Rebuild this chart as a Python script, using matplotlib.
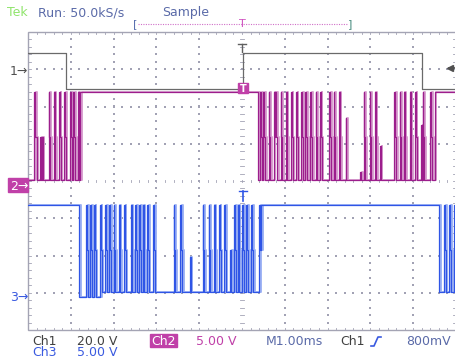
import numpy as np
import matplotlib
matplotlib.use('Agg')
import matplotlib.pyplot as plt
from matplotlib.patches import Rectangle

W, H = 456, 361

# ---- scope settings ----
ms_per_div = 1.0
ch1_v_per_div, ch2_v_per_div, ch3_v_per_div = 20.0, 5.0, 5.0
ch1_pos, ch2_pos, ch3_pos = 6.95, 3.89, 0.89      # ground markers (div)
sample_ms = 0.02                                  # 50.0 kS/s

# ---- ch1 : square wave (time ms from trigger, volts) ----
ch1_edge_ms = [-5.0, -4.14, 0.0, 4.18]
ch1_level_v = [9.8, -9.6, 9.8, -9.6]

# ---- ch2 : idle high, two bursts ----
ch2_high, ch2_mid, ch2_low = 12.5, 6.4, 0.75
ch2_burst_ms = [(-5.0, -3.80), (0.36, 4.49)]
ch2_pulse_ms = [-4.88, -4.84, -4.74, -4.69, -4.54, -4.42, -4.30, -4.18, -4.04, -3.96, -3.86,
                0.40, 0.48, 0.60, 0.72, 0.77, 0.89, 1.00, 1.12, 1.24, 1.36, 1.47, 1.59, 1.71,
                1.81, 2.02, 2.13, 2.25, 2.41, 2.74, 2.83, 2.97, 3.09, 3.21, 3.54, 3.67, 3.77,
                3.91, 4.03, 4.16, 4.20, 4.38]
ch2_pulse_v = [12.5, 6.4, 6.4, 6.4, 12.5, 12.5, 12.5, 12.5, 12.5, 12.5, 12.5,
               12.5, 12.5, 12.5, 12.5, 12.5, 12.5, 12.5, 12.5, 12.5, 12.5, 12.5, 12.5, 12.5,
               12.5, 12.5, 12.5, 12.5, 9.0, 1.8, 12.5, 12.5, 12.5, 5.2, 12.5, 12.5, 12.5,
               12.5, 12.5, 8.0, 12.5, 12.5]

# ---- ch3 : idle high, bursts ----
ch3_high, ch3_mid, ch3_low = 12.3, 6.3, 0.6
ch3_burst_ms = [(-3.81, 0.42), (4.59, 5.0)]
ch3_deep_ms = (-3.81, -3.30)                      # burst start sinks to 0 V
ch3_pulse_ms = [-3.65, -3.55, -3.47, -3.33, -3.22, -3.11, -3.01, -2.89, -2.77, -2.62, -2.52,
                -2.42, -2.34, -2.23, -2.09, -1.61, -1.45, -1.23, -0.94, -0.79, -0.67, -0.55,
                -0.44, -0.30, -0.20, -0.11, -0.01, 0.09, 0.20, 0.38, 4.70, 4.82, 4.94]
ch3_pulse_v = [12.3, 12.3, 12.3, 12.3, 12.3, 12.3, 12.3, 12.3, 12.3, 12.3, 12.3,
               12.3, 12.3, 12.3, 12.3, 12.3, 12.3, 5.3, 12.3, 12.3, 12.3, 12.3,
               12.3, 6.3, 12.3, 12.3, 12.3, 12.3, 12.3, 12.3, 12.3, 12.3, 12.3]


def sample_trace(t, high, mid, low, bursts, starts, tops, deep=None):
    v = np.full_like(t, high)
    for b0, b1 in bursts:
        v[(t >= b0) & (t < b1)] = low
    if deep is not None:
        v[(t >= deep[0]) & (t < deep[1])] = 0.0
    for s, top in zip(starts, tops):
        if top >= high:
            v[(t >= s) & (t < s + sample_ms)] = top
            v[(t >= s + sample_ms) & (t < s + 2 * sample_ms)] = mid
        else:
            v[(t >= s) & (t < s + sample_ms)] = top
    return v


t = np.arange(-5.0, 5.0 + sample_ms, sample_ms)
ch1 = np.array(ch1_level_v)[np.searchsorted(ch1_edge_ms, t, side='right') - 1]
ch2 = sample_trace(t, ch2_high, ch2_mid, ch2_low, ch2_burst_ms, ch2_pulse_ms, ch2_pulse_v)
ch3 = sample_trace(t, ch3_high, ch3_mid, ch3_low, ch3_burst_ms, ch3_pulse_ms, ch3_pulse_v,
                   deep=ch3_deep_ms)

fig = plt.figure(figsize=(W / 100, H / 100), dpi=100)
fig.patch.set_facecolor('white')

# ---- graticule axes (time ms, divisions) ----
ax = fig.add_axes([28 / W, (H - 330) / H, 428 / W, 298 / H])
ax.set_xlim(-5, 5)
ax.set_ylim(0, 8)
ax.axis('off')

gcol = '#a2a2b4'
for k in range(-4, 5):
    if k == 0:
        continue
    yy = np.arange(0.2, 8.0, 0.2)
    ax.scatter(np.full_like(yy, k), yy, s=1.0, color=gcol, lw=0, marker='s')
for j in range(1, 8):
    if j == 4:
        continue
    xx = np.arange(-4.8, 5.0, 0.2)
    ax.scatter(xx, np.full_like(xx, j), s=1.0, color=gcol, lw=0, marker='s')
# centre lines with ticks
for yy in np.arange(0.2, 8.0, 0.2):
    ax.plot([-0.05, 0.05], [yy, yy], color=gcol, lw=0.6)
for xx in np.arange(-4.8, 5.0, 0.2):
    ax.plot([xx, xx], [3.96, 4.04], color=gcol, lw=0.6)
# border ticks
for xx in np.arange(-4.8, 5.0, 0.2):
    ax.plot([xx, xx], [7.94, 8.0], color=gcol, lw=0.6)
    ax.plot([xx, xx], [0.0, 0.06], color=gcol, lw=0.6)
for yy in np.arange(0.2, 8.0, 0.2):
    ax.plot([-5, -4.93], [yy, yy], color=gcol, lw=0.6)
    ax.plot([4.93, 5], [yy, yy], color=gcol, lw=0.6)
ax.add_patch(Rectangle((-5, 0), 10, 8, fill=False, ec='#a4a4b4', lw=1.0, clip_on=False))

# ---- traces ----
def to_div(v, pos, vpd):
    return pos + v / vpd

shift = 2 * sample_ms
ax.step(t + shift, to_div(ch2, ch2_pos, ch2_v_per_div), where='post', color='#d8a0d0', lw=1.4)
ax.step(t, to_div(ch2, ch2_pos, ch2_v_per_div), where='post', color='#9c1e8c', lw=0.9)
ax.step(t + shift, to_div(ch3, ch3_pos, ch3_v_per_div), where='post', color='#a0b4f4', lw=1.4)
ax.step(t, to_div(ch3, ch3_pos, ch3_v_per_div), where='post', color='#2f55e6', lw=0.9)
ax.step(t, to_div(ch1, ch1_pos, ch1_v_per_div), where='post', color='#6a6a6a', lw=0.9)

# ---- overlay in pixel coordinates ----
ov = fig.add_axes([0, 0, 1, 1], facecolor='none')
ov.set_xlim(0, W)
ov.set_ylim(H, 0)
ov.axis('off')

fs = 9
ov.text(7, 16, 'Tek', color='#90e46c', fontsize=fs, va='baseline')
ov.text(38, 16, 'Run: 50.0kS/s', color='#5a6aa8', fontsize=fs, va='baseline')
ov.text(162, 16, 'Sample', color='#5a6aa8', fontsize=fs, va='baseline')

# trigger position bracket
ov.plot([138, 348], [24, 24], color='#d070c8', lw=0.8, ls=(0, (1, 1.2)))
ov.text(135, 24, '[', color='#5a70b0', fontsize=8, va='center', ha='center')
ov.text(350, 24, ']', color='#4a8c80', fontsize=8, va='center', ha='center')
ov.text(242, 24, 'T', color='#d050c0', fontsize=8, va='center', ha='center')

# trigger markers on screen
ov.plot([238, 246], [44, 44], color='#606060', lw=1)
ov.plot([242, 242], [44, 52], color='#606060', lw=1)
ov.add_patch(Rectangle((238, 83), 10, 10, color='#c040a8'))
ov.text(243, 88.5, 'T', color='white', fontsize=7, ha='center', va='center', weight='bold')
ov.plot([239, 247], [191, 191], color='#2f55e6', lw=1)
ov.plot([243, 243], [191, 201], color='#2f55e6', lw=1.2)

# trigger level arrow
ov.plot([449, 456], [68, 68], color='#505050', lw=1.2)
ov.plot([450], [68], marker='<', ms=5, color='#505050')

# channel ground markers
ov.text(10, 75, '1\u2192', color='#505050', fontsize=fs, va='baseline')
ov.add_patch(Rectangle((8, 178), 20, 14, color='#c040a8'))
ov.text(10, 189.5, '2\u2192', color='white', fontsize=fs, va='baseline')
ov.text(10, 301, '3\u2192', color='#3a5ae0', fontsize=fs, va='baseline')

# bottom readout
ov.text(32, 345, 'Ch1', color='#404040', fontsize=fs, va='baseline')
ov.text(77, 345, '20.0 V', color='#404040', fontsize=fs, va='baseline')
ov.add_patch(Rectangle((150, 334), 27, 13, color='#c040a8'))
ov.text(151, 345, 'Ch2', color='white', fontsize=fs, va='baseline')
ov.text(196, 345, '5.00 V', color='#c040a8', fontsize=fs, va='baseline')
ov.text(266, 345, 'M1.00ms', color='#5a6aa8', fontsize=fs, va='baseline')
ov.text(340, 345, 'Ch1', color='#404040', fontsize=fs, va='baseline')
ov.plot([371, 374, 378, 381], [346, 346, 337, 337], color='#3a5ae0', lw=1.2)
ov.text(406, 345, '800mV', color='#5a6aa8', fontsize=fs, va='baseline')
ov.text(32, 356.5, 'Ch3', color='#3a5ae0', fontsize=fs, va='baseline')
ov.text(77, 356.5, '5.00 V', color='#3a5ae0', fontsize=fs, va='baseline')

fig.savefig('out.png', dpi=100)
